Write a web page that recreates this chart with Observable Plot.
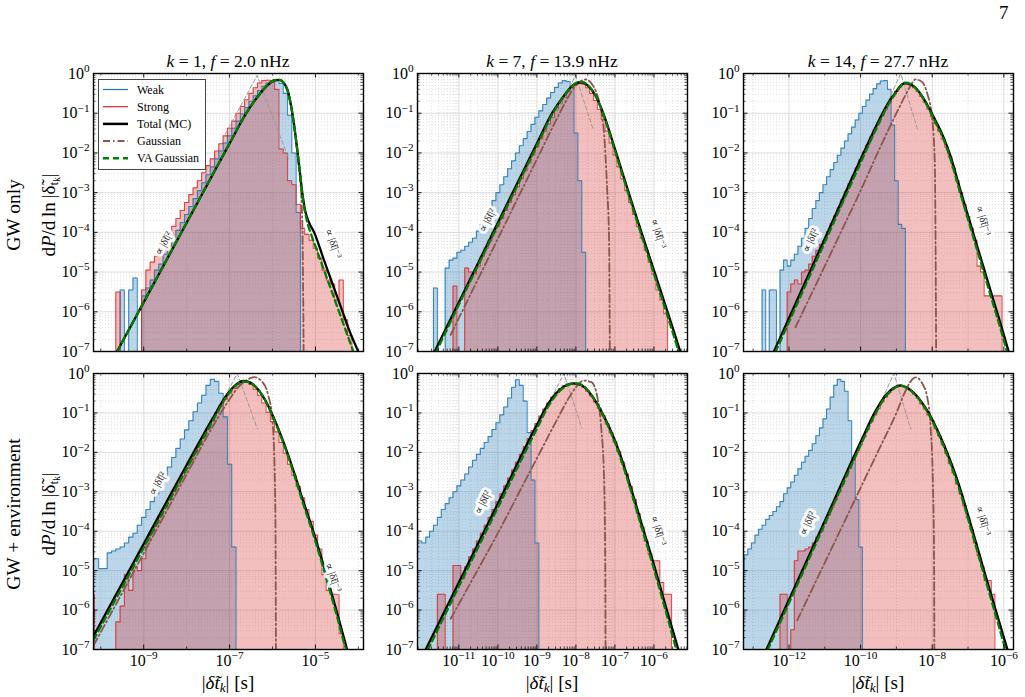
<!DOCTYPE html>
<html>
<head>
<meta charset="utf-8">
<script src="https://cdn.jsdelivr.net/npm/d3@7"></script>
<script src="https://cdn.jsdelivr.net/npm/@observablehq/plot@0.6"></script>
<style>
html,body{margin:0;padding:0;background:#fff;}
body{width:1025px;height:697px;position:relative;overflow:hidden;font-family:"Liberation Serif","DejaVu Serif",serif;color:#000;}
.abs{position:absolute;}
.rot{position:absolute;transform:translate(-50%,-50%) rotate(-90deg);white-space:nowrap;}
.ctr{position:absolute;transform:translate(-50%,-50%);white-space:nowrap;}
sub{font-size:0.7em;vertical-align:-0.25em;line-height:0;}
</style>
</head>
<body>
<script>
// ---------------- DATA (log10 values) ----------------
const xDomainExp = [[-10.17, -3.88], [-12.06, -5.14], [-13.27, -5.73]];
const xTickExp = [[-9, -7, -5], [-11, -10, -9, -8, -7, -6], [-12, -10, -8, -6]];
const yTickExp = [0, -1, -2, -3, -4, -5, -6, -7];
const colK = [1, 7, 14];
const colF = ["2.0", "13.9", "27.7"];
const rowNames = ["GW only", "GW + environment"];
const legendNames = ["Weak", "Strong", "Total (MC)", "Gaussian", "VA Gaussian"];
const BIN_DEX = 0.1;

// ---- k=1, GW only
const weak_gw1 = {start: -9.55, logp: [-5.45,null,-5.45,-5.15,null,-5.6,-5.4,-5.2,-4.95,-4.8,-4.55,-4.35,-4.15,-3.95,-3.75,-3.55,-3.35,-3.15,-2.95,-2.75,-2.55,-2.35,-2.15,-1.95,-1.75,-1.57,-1.38,-1.2,-1.02,-0.86,-0.7,-0.56,-0.43,-0.32,-0.24,-0.19,-0.17,-0.25,-0.5,-1.05,-2.0,-3.5]};
const strong_gw1 = {start: -9.65, logp: [-5.5,null,null,null,null,null,-5.45,-4.95,-4.75,-4.6,-4.4,-4.2,-4.0,-3.85,-3.65,-3.45,-3.25,-3.05,-2.88,-2.7,-2.5,-2.32,-2.15,-1.95,-1.77,-1.57,-1.38,-1.2,-1.0,-0.83,-0.66,-0.5,-0.36,-0.24,-0.18,-0.17,-0.22,-0.4,-1.9,-2.0,-2.7,-2.8,-3.3,-3.9,-4.05,-4.2,-4.4,-4.65,-4.95,-5.2,-5.3,-5.7,-5.2,-6.2,-6.6]};
const total_gw1 = [[-9.62,-7],[-9.0,-5.76],[-8.0,-3.76],[-7.0,-1.76],[-6.6,-0.98],[-6.3,-0.52],[-6.1,-0.28],[-5.95,-0.17],[-5.85,-0.16],[-5.75,-0.22],[-5.65,-0.42],[-5.57,-0.8],[-5.5,-1.27],[-5.42,-1.95],[-5.36,-2.5],[-5.3,-3.05],[-5.24,-3.45],[-5.15,-3.75],[-5.03,-4.0],[-4.8,-4.7],[-4.6,-5.3],[-4.4,-5.9],[-4.2,-6.5],[-3.98,-7.05]];
const va_gw1 = [[-9.62,-7],[-9.0,-5.76],[-8.0,-3.76],[-7.0,-1.76],[-6.6,-0.98],[-6.3,-0.52],[-6.1,-0.28],[-5.95,-0.17],[-5.85,-0.16],[-5.75,-0.22],[-5.65,-0.42],[-5.57,-0.8],[-5.5,-1.27],[-5.42,-1.95],[-5.36,-2.5],[-5.3,-3.1],[-5.2,-3.7],[-5.1,-4.05],[-5.0,-4.35],[-4.8,-4.95],[-4.6,-5.55],[-4.4,-6.15],[-4.2,-6.75],[-4.1,-7.05]];
const gauss_gw1 = [[-9.62,-7],[-9.0,-5.76],[-8.0,-3.76],[-7.0,-1.76],[-6.6,-0.98],[-6.3,-0.52],[-6.1,-0.28],[-5.95,-0.17],[-5.85,-0.16],[-5.75,-0.22],[-5.65,-0.42],[-5.57,-0.8],[-5.5,-1.3],[-5.42,-2.0],[-5.36,-2.65],[-5.32,-3.3],[-5.3,-4.1],[-5.29,-5.2],[-5.28,-6.2],[-5.275,-7.1]];
const asym_gw1 = [[-7.1,-1.53],[-6.36,-0.05],[-5.62,-2.15]];
const lab2_gw1 = [-8.54,-4.28], lab3_gw1 = [-4.58,-4.28];

// ---- k=7, GW only
const weak_gw7 = {start: -11.65, logp: [-5.4,null,null,-4.9,-4.7,-4.65,-4.5,-4.45,-4.35,-4.25,-4.15,-3.97,-3.8,-3.6,-3.4,-3.2,-3.0,-2.8,-2.6,-2.4,-2.2,-2.0,-1.82,-1.64,-1.46,-1.28,-1.1,-0.94,-0.78,-0.62,-0.48,-0.35,-0.24,-0.18,-0.2,-0.35,-1.5,-2.7,-4.5]};
const strong_gw7 = {start: -11.15, logp: [-5.35,null,null,-4.9,-5.0,-5.05,-4.85,-4.6,-4.4,-4.2,-4.0,-3.85,-3.65,-3.45,-3.25,-3.05,-2.85,-2.65,-2.45,-2.25,-2.05,-1.85,-1.65,-1.45,-1.27,-1.1,-0.92,-0.76,-0.6,-0.46,-0.35,-0.28,-0.25,-0.27,-0.36,-0.5,-0.68,-0.9,-1.15,-1.45,-1.75,-2.05,-2.35,-2.65,-2.95,-3.25,-3.55,-3.85,-4.15,-4.45,-4.75,-5.05,-5.45,-5.7,-6.05]};
const total_gw7 = [[-11.62,-7],[-11,-5.76],[-10,-3.76],[-9,-1.76],[-8.6,-0.98],[-8.3,-0.55],[-8.1,-0.32],[-7.95,-0.23],[-7.85,-0.22],[-7.7,-0.3],[-7.5,-0.55],[-7.3,-1.0],[-7.0,-1.9],[-6.5,-3.46],[-6.0,-4.96],[-5.5,-6.46],[-5.32,-7.02]];
const va_gw7 = [[-11.6,-7.05],[-11,-5.82],[-10,-3.82],[-9,-1.82],[-8.6,-1.02],[-8.3,-0.57],[-8.1,-0.32],[-7.95,-0.22],[-7.85,-0.21],[-7.7,-0.29],[-7.5,-0.55],[-7.3,-1.02],[-7.0,-1.95],[-6.5,-3.52],[-6.0,-5.05],[-5.5,-6.58],[-5.36,-7.02]];
const gauss_gw7 = [[-11.21,-6.58],[-10.5,-5.16],[-10,-4.16],[-9.5,-3.16],[-9,-2.16],[-8.5,-1.16],[-8.2,-0.6],[-8.0,-0.3],[-7.85,-0.18],[-7.75,-0.15],[-7.6,-0.25],[-7.45,-0.55],[-7.35,-0.95],[-7.28,-1.5],[-7.2,-2.9],[-7.15,-4.2],[-7.13,-7.1]];
const asym_gw7 = [[-8.75,-1.53],[-8.01,-0.05],[-7.55,-1.43]];
const lab2_gw7 = [-10.27,-3.7], lab3_gw7 = [-5.88,-4.03];

// ---- k=14, GW only
const weak_gw14 = {start: -12.75, logp: [-5.45,null,-5.45,-5.45,null,-4.95,-4.7,-4.85,-4.7,-4.55,-4.35,-4.15,-3.9,-3.65,-3.4,-3.2,-3.0,-2.8,-2.6,-2.42,-2.24,-2.06,-1.88,-1.7,-1.52,-1.35,-1.17,-1.0,-0.83,-0.67,-0.52,-0.38,-0.26,-0.19,-0.18,-0.4,-1.3,-2.7,-3.8,-3.9]};
const strong_gw14 = {start: -12.05, logp: [-5.5,-5.3,-5.2,-5.3,-5.0,-4.95,-4.8,-4.6,-4.45,-4.3,-4.2,-3.98,-3.78,-3.58,-3.38,-3.18,-2.98,-2.78,-2.58,-2.38,-2.18,-1.98,-1.8,-1.6,-1.42,-1.24,-1.06,-0.9,-0.74,-0.58,-0.45,-0.34,-0.27,-0.26,-0.3,-0.36,-0.45,-0.58,-0.72,-0.9,-1.08,-1.26,-1.45,-1.65,-1.85,-2.1,-2.38,-2.7,-3.0,-3.3,-3.6,-3.9,-4.2,-4.85,-5.0,-5.6,-5.6,-5.6,-5.6,-5.6]};
const total_gw14 = [[-12.42,-7],[-11,-4.16],[-10,-2.16],[-9.5,-1.2],[-9.2,-0.7],[-9.0,-0.45],[-8.85,-0.28],[-8.75,-0.24],[-8.5,-0.33],[-8.3,-0.55],[-8.1,-0.85],[-7.9,-1.2],[-7.7,-1.57],[-7.5,-2.05],[-7.2,-2.98],[-6.8,-4.18],[-6.4,-5.38],[-6.0,-6.58],[-5.86,-7.02]];
const va_gw14 = [[-12.38,-7.02],[-11,-4.25],[-10,-2.25],[-9.5,-1.27],[-9.2,-0.74],[-9.0,-0.47],[-8.85,-0.28],[-8.75,-0.23],[-8.5,-0.33],[-8.3,-0.56],[-8.1,-0.88],[-7.9,-1.25],[-7.7,-1.62],[-7.5,-2.13],[-7.2,-3.06],[-6.8,-4.28],[-6.4,-5.5],[-6.0,-6.72],[-5.91,-7.02]];
const gauss_gw14 = [[-11.82,-6.39],[-11,-4.85],[-10.5,-3.9],[-10,-2.95],[-9.5,-1.95],[-9.0,-1.0],[-8.75,-0.55],[-8.6,-0.3],[-8.47,-0.15],[-8.3,-0.2],[-8.14,-0.5],[-8.0,-1.15],[-7.93,-2.2],[-7.91,-3.8],[-7.89,-7.1]];
const asym_gw14 = [[-9.6,-1.44],[-8.88,0],[-8.4,-1.44]];
const lab2_gw14 = [-11.4,-4.2], lab3_gw14 = [-6.57,-3.7];

// ---- k=1, GW + environment
const weak_env1 = {start: -10.25, logp: [-4.7,-4.7,-4.95,-4.95,-4.55,-4.5,-4.45,-4.4,-4.3,-4.15,-4.05,-3.85,-3.65,-3.45,-3.25,-3.05,-2.83,-2.6,-2.37,-2.13,-1.9,-1.66,-1.43,-1.2,-0.97,-0.75,-0.55,-0.3,-0.15,-0.2,-0.5,-1.1,-2.3,-4.4]};
const strong_env1 = {start: -10.25, logp: [-5.6,null,null,null,null,null,-6.3,-5.9,-5.1,-5.5,-4.9,-5.0,-4.7,-4.25,-4.0,-3.8,-3.6,-3.4,-3.2,-3.0,-2.8,-2.6,-2.4,-2.2,-2.0,-1.8,-1.6,-1.4,-1.2,-1.0,-0.82,-0.65,-0.5,-0.38,-0.28,-0.22,-0.22,-0.28,-0.4,-0.55,-0.75,-0.98,-1.22,-1.48,-1.75,-2.02,-2.3,-2.58,-2.86,-3.15,-3.45,-3.75,-4.1,-4.45,-5.1,-5.5,-5.6,-5.6,-6.6]};
const total_env1 = [[-10.17,-6.66],[-9,-4.32],[-8,-2.32],[-7.4,-1.15],[-7.1,-0.6],[-6.9,-0.33],[-6.67,-0.19],[-6.45,-0.28],[-6.2,-0.62],[-6.0,-1.05],[-5.73,-1.78],[-5.5,-2.5],[-5.34,-3.05],[-5.03,-4.07],[-4.72,-5.2],[-4.5,-6.05],[-4.3,-6.85],[-4.25,-7.05]];
const va_env1 = [[-10.17,-6.76],[-9,-4.42],[-8,-2.42],[-7.4,-1.22],[-7.1,-0.64],[-6.9,-0.35],[-6.67,-0.2],[-6.45,-0.28],[-6.2,-0.62],[-6.0,-1.07],[-5.73,-1.82],[-5.5,-2.55],[-5.34,-3.12],[-5.03,-4.15],[-4.72,-5.3],[-4.5,-6.15],[-4.3,-6.95],[-4.27,-7.05]];
const gauss_env1 = [[-10.17,-6.9],[-9,-4.56],[-8,-2.56],[-7.4,-1.36],[-7.0,-0.65],[-6.8,-0.35],[-6.6,-0.17],[-6.43,-0.09],[-6.25,-0.2],[-6.1,-0.55],[-6.0,-1.2],[-5.95,-2.5],[-5.93,-4.0],[-5.92,-7.1]];
const asym_env1 = [[-7.55,-1.46],[-6.82,0],[-6.35,-1.41]];
const lab2_env1 = [-8.68,-2.79], lab3_env1 = [-4.58,-5.17];

// ---- k=7, GW + environment
const weak_env7 = {start: -12.15, logp: [-4.25,-4.25,-4.3,-4.15,-4.0,-3.85,-3.65,-3.45,-3.3,-3.15,-3.0,-2.85,-2.7,-2.55,-2.37,-2.2,-2.05,-1.9,-1.75,-1.6,-1.42,-1.25,-1.05,-0.85,-0.62,-0.35,-0.16,-0.3,-0.7,-1.5,-2.7,-4.3]};
const strong_env7 = {start: -11.55, logp: [-5.6,-5.6,null,null,-4.87,-4.87,-5.2,-4.9,-4.65,-4.45,-4.25,-4.05,-3.85,-3.65,-3.45,-3.25,-3.05,-2.85,-2.65,-2.45,-2.25,-2.05,-1.85,-1.65,-1.45,-1.27,-1.08,-0.9,-0.75,-0.6,-0.48,-0.38,-0.31,-0.27,-0.26,-0.27,-0.3,-0.35,-0.45,-0.57,-0.72,-0.88,-1.07,-1.28,-1.5,-1.73,-1.98,-2.25,-2.55,-2.87,-3.2,-3.55,-3.9,-4.25,-4.58,-4.75,-4.75,-5.3,-5.6,-5.6]};
const total_env7 = [[-11.85,-7],[-11,-5.3],[-10,-3.3],[-9,-1.3],[-8.7,-0.75],[-8.4,-0.4],[-8.2,-0.28],[-8.05,-0.25],[-7.85,-0.3],[-7.6,-0.55],[-7.3,-1.05],[-7.0,-1.7],[-6.7,-2.55],[-6.34,-3.73],[-6.0,-4.85],[-5.7,-5.9],[-5.36,-7.05]];
const va_env7 = [[-11.8,-7.02],[-11,-5.4],[-10,-3.4],[-9,-1.4],[-8.7,-0.82],[-8.4,-0.43],[-8.2,-0.29],[-8.05,-0.25],[-7.85,-0.29],[-7.6,-0.55],[-7.3,-1.07],[-7.0,-1.75],[-6.7,-2.62],[-6.34,-3.82],[-6.0,-4.96],[-5.7,-6.02],[-5.42,-7.03]];
const gauss_env7 = [[-11.21,-6.22],[-10.5,-4.95],[-10,-4.05],[-9.5,-3.1],[-9,-2.15],[-8.5,-1.2],[-8.2,-0.65],[-8.0,-0.35],[-7.8,-0.18],[-7.6,-0.22],[-7.45,-0.6],[-7.35,-1.4],[-7.28,-2.6],[-7.25,-4.5],[-7.24,-7.1]];
const asym_env7 = [[-9.0,-1.38],[-8.31,0],[-7.85,-1.38]];
const lab2_env7 = [-10.39,-3.27], lab3_env7 = [-5.88,-3.98];

// ---- k=14, GW + environment
const weak_env14 = {start: -13.35, logp: [-5.0,-4.6,-4.45,-4.3,-4.1,-3.95,-3.85,-3.7,-3.6,-3.5,-3.38,-3.25,-3.05,-2.9,-2.75,-2.58,-2.42,-2.25,-2.1,-1.95,-1.78,-1.58,-1.38,-1.15,-0.9,-0.6,-0.3,-0.15,-0.2,-0.45,-1.2,-2.2,-3.2,-4.4]};
const strong_env14 = {start: -12.25, logp: [-5.6,-5.6,null,-6.5,-4.75,-4.5,-4.5,-4.45,-4.4,-4.3,-4.15,-4.0,-3.8,-3.6,-3.4,-3.2,-3.0,-2.8,-2.6,-2.4,-2.2,-2.0,-1.8,-1.6,-1.42,-1.22,-1.05,-0.88,-0.72,-0.6,-0.48,-0.4,-0.35,-0.32,-0.33,-0.36,-0.43,-0.52,-0.62,-0.77,-0.9,-1.05,-1.2,-1.4,-1.58,-1.8,-2.02,-2.28,-2.52,-2.8,-3.05,-3.35,-3.65,-3.95,-4.3,-4.6,-4.9,-5.25,-5.25,-5.6]};
const total_env14 = [[-12.63,-7],[-12,-5.74],[-11,-3.74],[-10,-1.74],[-9.6,-0.98],[-9.3,-0.55],[-9.1,-0.38],[-8.88,-0.3],[-8.7,-0.36],[-8.5,-0.5],[-8.3,-0.72],[-8.1,-1.0],[-7.9,-1.35],[-7.7,-1.75],[-7.5,-2.2],[-7.3,-2.7],[-7.1,-3.28],[-6.9,-3.9],[-6.6,-4.85],[-6.3,-5.78],[-5.9,-7.0]];
const va_env14 = [[-12.6,-7.02],[-12,-5.82],[-11,-3.82],[-10,-1.82],[-9.6,-1.04],[-9.3,-0.59],[-9.1,-0.4],[-8.88,-0.31],[-8.7,-0.37],[-8.5,-0.52],[-8.3,-0.74],[-8.1,-1.03],[-7.9,-1.39],[-7.7,-1.8],[-7.5,-2.27],[-7.3,-2.78],[-7.1,-3.37],[-6.9,-4.0],[-6.6,-4.96],[-6.3,-5.9],[-5.95,-7.02]];
const gauss_env14 = [[-11.77,-6.26],[-10.5,-3.85],[-9.5,-1.95],[-9.0,-1.0],[-8.75,-0.45],[-8.55,-0.14],[-8.45,-0.1],[-8.3,-0.22],[-8.14,-0.6],[-8.05,-1.3],[-7.98,-2.8],[-7.95,-4.5],[-7.94,-7.1]];
const asym_env14 = [[-9.77,-1.4],[-9.07,0],[-8.6,-1.41]];
const lab2_env14 = [-11.48,-3.8], lab3_env14 = [-6.57,-3.73];

// ---------------- LAYOUT / STYLE ----------------
const FRAME_L = [93, 417, 743], FRAME_W = 270, FRAME_T = [73, 373], FRAME_H = [278, 276];
const C = {weak: "#1f77b4", strong: "#d62728", total: "#000000", gauss: "#8c564b", va: "#008000", asym: "#9a9a9a"};
const FONT = "'Liberation Serif','DejaVu Serif',serif";

const panels = [
  {col:0,row:0,weak:weak_gw1,strong:strong_gw1,total:total_gw1,va:va_gw1,gauss:gauss_gw1,asym:asym_gw1,lab2:lab2_gw1,lab3:lab3_gw1},
  {col:1,row:0,weak:weak_gw7,strong:strong_gw7,total:total_gw7,va:va_gw7,gauss:gauss_gw7,asym:asym_gw7,lab2:lab2_gw7,lab3:lab3_gw7},
  {col:2,row:0,weak:weak_gw14,strong:strong_gw14,total:total_gw14,va:va_gw14,gauss:gauss_gw14,asym:asym_gw14,lab2:lab2_gw14,lab3:lab3_gw14},
  {col:0,row:1,weak:weak_env1,strong:strong_env1,total:total_env1,va:va_env1,gauss:gauss_env1,asym:asym_env1,lab2:lab2_env1,lab3:lab3_env1},
  {col:1,row:1,weak:weak_env7,strong:strong_env7,total:total_env7,va:va_env7,gauss:gauss_env7,asym:asym_env7,lab2:lab2_env7,lab3:lab3_env7},
  {col:2,row:1,weak:weak_env14,strong:strong_env14,total:total_env14,va:va_env14,gauss:gauss_env14,asym:asym_env14,lab2:lab2_env14,lab3:lab3_env14}
];

const SUP = {"-":"\u207B","0":"\u2070","1":"\u00B9","2":"\u00B2","3":"\u00B3","4":"\u2074","5":"\u2075","6":"\u2076","7":"\u2077","8":"\u2078","9":"\u2079"};
const INV = Object.fromEntries(Object.entries(SUP).map(([k, v]) => [v, k]));
const fmtPow = d => "10" + String(Math.round(Math.log10(d))).split("").map(c => SUP[c]).join("");

const toPts = arr => arr.map(([a, b]) => ({x: 10 ** a, y: 10 ** b}));
function histPts(h) {
  const pts = [{x: 10 ** h.start, y: 1e-7}];
  h.logp.forEach((v, i) => pts.push({x: 10 ** (h.start + BIN_DEX * i), y: v == null ? 1e-7 : 10 ** v}));
  pts.push({x: 10 ** (h.start + BIN_DEX * h.logp.length), y: 1e-7});
  return pts;
}

function fixSup(svg) {
  svg.querySelectorAll("text").forEach(t => {
    const s = t.textContent;
    const m = /^10([\u207B\u2070\u00B9\u00B2\u00B3\u2074-\u2079]+)$/.exec(s);
    if (!m) return;
    const e = [...m[1]].map(c => INV[c]).join("").replace("-", "\u2212");
    while (t.firstChild) t.removeChild(t.firstChild);
    t.appendChild(document.createTextNode("10"));
    const ts = document.createElementNS("http://www.w3.org/2000/svg", "tspan");
    ts.setAttribute("dy", "-0.6em");
    ts.setAttribute("font-size", "0.7em");
    ts.textContent = e;
    t.appendChild(ts);
  });
}

function renderPanel(p) {
  const {col, row} = p;
  const W = FRAME_W, H = FRAME_H[row];
  const mL = 64, mR = 12, mT = 10, mB = 34;
  const xe = xDomainExp[col];
  const xd = [10 ** xe[0], 10 ** xe[1]];
  const pdx = W / (xe[1] - xe[0]), pdy = H / 7;
  const xMaj = xTickExp[col].map(e => 10 ** e);
  const xMin = [];
  if (col === 1) {
    for (let e = Math.floor(xe[0]); e <= Math.ceil(xe[1]); e++)
      for (let m = 2; m <= 9; m++) { const v = m * 10 ** e; if (v > xd[0] && v < xd[1]) xMin.push(v); }
  } else {
    for (let e = Math.ceil(xe[0]); e <= Math.floor(xe[1]); e++) if (!xTickExp[col].includes(e)) xMin.push(10 ** e);
  }
  const yMaj = yTickExp.map(e => 10 ** e);
  const yMin = [];
  for (let e = -7; e < 0; e++) for (let m = 2; m <= 9; m++) yMin.push(m * 10 ** e);
  const ky = L => 10 ** (L / pdy), kx = L => 10 ** (L / pdx);
  const MAJ = 4.5, MIN = 2.5;
  const rotL = -Math.atan(2 * pdy / pdx) * 180 / Math.PI;
  const rotR = Math.atan(3 * pdy / pdx) * 180 / Math.PI;
  const labStyle = {fontSize: 10.5, fill: "#222", stroke: "white", strokeWidth: 6, strokeOpacity: 0.9, paintOrder: "stroke"};

  const marks = [
    Plot.ruleY(yMin, {y: d => d, stroke: "#cfcfcf", strokeWidth: 0.6, strokeDasharray: "1,2"}),
    Plot.ruleX(xMin, {x: d => d, stroke: "#cfcfcf", strokeWidth: 0.6, strokeDasharray: "1,2"}),
    Plot.ruleY(yMaj, {y: d => d, stroke: "#d4d4d4", strokeWidth: 0.8}),
    Plot.ruleX(xMaj, {x: d => d, stroke: "#d4d4d4", strokeWidth: 0.8}),
    Plot.areaY(histPts(p.weak), {x: "x", y1: 1e-7, y2: "y", curve: "step-after", fill: C.weak, fillOpacity: 0.3, clip: true}),
    Plot.areaY(histPts(p.strong), {x: "x", y1: 1e-7, y2: "y", curve: "step-after", fill: C.strong, fillOpacity: 0.3, clip: true}),
    Plot.line(histPts(p.weak), {x: "x", y: "y", curve: "step-after", stroke: C.weak, strokeWidth: 1.1, strokeOpacity: 0.85, clip: true}),
    Plot.line(histPts(p.strong), {x: "x", y: "y", curve: "step-after", stroke: C.strong, strokeWidth: 1.1, strokeOpacity: 0.8, clip: true}),
    Plot.line(toPts(p.asym), {x: "x", y: "y", stroke: C.asym, strokeWidth: 1, strokeDasharray: "4,2.5", clip: true}),
    Plot.line(toPts(p.gauss), {x: "x", y: "y", curve: "monotone-x", stroke: C.gauss, strokeWidth: 1.8, strokeDasharray: "8,3,1.5,3", clip: true}),
    Plot.line(toPts(p.total), {x: "x", y: "y", curve: "monotone-x", stroke: C.total, strokeWidth: 2.3, clip: true}),
    Plot.line(toPts(p.va), {x: "x", y: "y", curve: "monotone-x", stroke: C.va, strokeWidth: 2.3, strokeDasharray: "6,4", clip: true}),
    Plot.text([p.lab2], {x: d => 10 ** d[0], y: d => 10 ** d[1], text: () => "\u221D |\u03B4\u0303t|\u00B2", rotate: rotL, ...labStyle}),
    Plot.text([p.lab3], {x: d => 10 ** d[0], y: d => 10 ** d[1], text: () => "\u221D |\u03B4\u0303t|\u207B\u00B3", rotate: rotR, ...labStyle}),
    Plot.ruleX(xMaj, {x: d => d, y1: 1e-7, y2: 1e-7 * ky(MAJ), stroke: "#000", strokeWidth: 0.9}),
    Plot.ruleX(xMaj, {x: d => d, y1: 1, y2: 1 / ky(MAJ), stroke: "#000", strokeWidth: 0.9}),
    Plot.ruleX(xMin, {x: d => d, y1: 1e-7, y2: 1e-7 * ky(MIN), stroke: "#000", strokeWidth: 0.7}),
    Plot.ruleX(xMin, {x: d => d, y1: 1, y2: 1 / ky(MIN), stroke: "#000", strokeWidth: 0.7}),
    Plot.ruleY(yMaj, {y: d => d, x1: xd[0], x2: xd[0] * kx(MAJ), stroke: "#000", strokeWidth: 0.9}),
    Plot.ruleY(yMaj, {y: d => d, x1: xd[1], x2: xd[1] / kx(MAJ), stroke: "#000", strokeWidth: 0.9}),
    Plot.ruleY(yMin, {y: d => d, x1: xd[0], x2: xd[0] * kx(MIN), stroke: "#000", strokeWidth: 0.7}),
    Plot.ruleY(yMin, {y: d => d, x1: xd[1], x2: xd[1] / kx(MIN), stroke: "#000", strokeWidth: 0.7}),
    Plot.frame({stroke: "#000", strokeWidth: 1.4})
  ];

  const svg = Plot.plot({
    width: W + mL + mR,
    height: H + mT + mB,
    marginLeft: mL, marginRight: mR, marginTop: mT, marginBottom: mB,
    style: {fontFamily: FONT, fontSize: "16px", background: "transparent", overflow: "visible", maxWidth: "none"},
    x: {type: "log", domain: xd, ticks: xMaj, tickFormat: fmtPow, tickSize: 0, tickPadding: 5, label: null, axis: row === 1 ? "bottom" : null},
    y: {type: "log", domain: [1e-7, 1], ticks: yMaj, tickFormat: fmtPow, tickSize: 0, tickPadding: 4, label: null},
    marks
  });
  fixSup(svg);
  const div = document.createElement("div");
  div.className = "abs";
  div.style.left = (FRAME_L[col] - mL) + "px";
  div.style.top = (FRAME_T[row] - mT) + "px";
  div.appendChild(svg);
  document.body.appendChild(div);
}

panels.forEach(renderPanel);

colK.forEach((k, i) => {
  const d = document.createElement("div");
  d.className = "ctr";
  d.style.left = (FRAME_L[i] + FRAME_W / 2) + "px";
  d.style.top = "61px";
  d.style.fontSize = "17.5px";
  d.innerHTML = `<i>k</i> = ${k}, <i>f</i> = ${colF[i]} nHz`;
  document.body.appendChild(d);
});

FRAME_L.forEach(l => {
  const d = document.createElement("div");
  d.className = "ctr";
  d.style.left = (l + FRAME_W / 2) + "px";
  d.style.top = "683px";
  d.style.fontSize = "19px";
  d.innerHTML = `|<i>\u03B4\u0303t<sub>k</sub></i>| [s]`;
  document.body.appendChild(d);
});

rowNames.forEach((name, r) => {
  const cy = FRAME_T[r] + FRAME_H[r] / 2 + 3;
  const a = document.createElement("div");
  a.className = "rot";
  a.style.left = "14px"; a.style.top = cy + "px"; a.style.fontSize = "19.5px";
  a.textContent = name;
  document.body.appendChild(a);
  const b = document.createElement("div");
  b.className = "rot";
  b.style.left = "49px"; b.style.top = cy + "px"; b.style.fontSize = "19px";
  b.innerHTML = `d<i>P</i>/d\u2009ln\u2009|\u03B4\u0303<sub>t<sub>k</sub></sub>|`;
  document.body.appendChild(b);
});

const pg = document.createElement("div");
pg.className = "abs";
pg.style.left = "999px"; pg.style.top = "2px"; pg.style.fontSize = "19px";
pg.textContent = "7";
document.body.appendChild(pg);

const lg = document.createElement("div");
lg.className = "abs";
lg.style.left = "98px"; lg.style.top = "79px";
const lgStyles = [
  {stroke: C.weak, w: 1.2, dash: null},
  {stroke: C.strong, w: 1.2, dash: null},
  {stroke: C.total, w: 2.5, dash: null},
  {stroke: C.gauss, w: 2, dash: "7,3,1.5,3"},
  {stroke: C.va, w: 2.5, dash: "6,4"}
];
let lsvg = `<svg width="108" height="91" xmlns="http://www.w3.org/2000/svg" style="font-family:${FONT};font-size:12px">`;
lsvg += `<rect x="0.5" y="0.5" width="107" height="90" fill="white" stroke="#333" stroke-width="0.9"/>`;
legendNames.forEach((n, i) => {
  const y = 10.5 + i * 17.2;
  const s = lgStyles[i];
  lsvg += `<line x1="5" x2="30" y1="${y}" y2="${y}" stroke="${s.stroke}" stroke-width="${s.w}" ${s.dash ? `stroke-dasharray="${s.dash}"` : ""}/>`;
  lsvg += `<text x="39" y="${y + 4}">${n}</text>`;
});
lsvg += `</svg>`;
lg.innerHTML = lsvg;
document.body.appendChild(lg);
</script>
</body>
</html>
